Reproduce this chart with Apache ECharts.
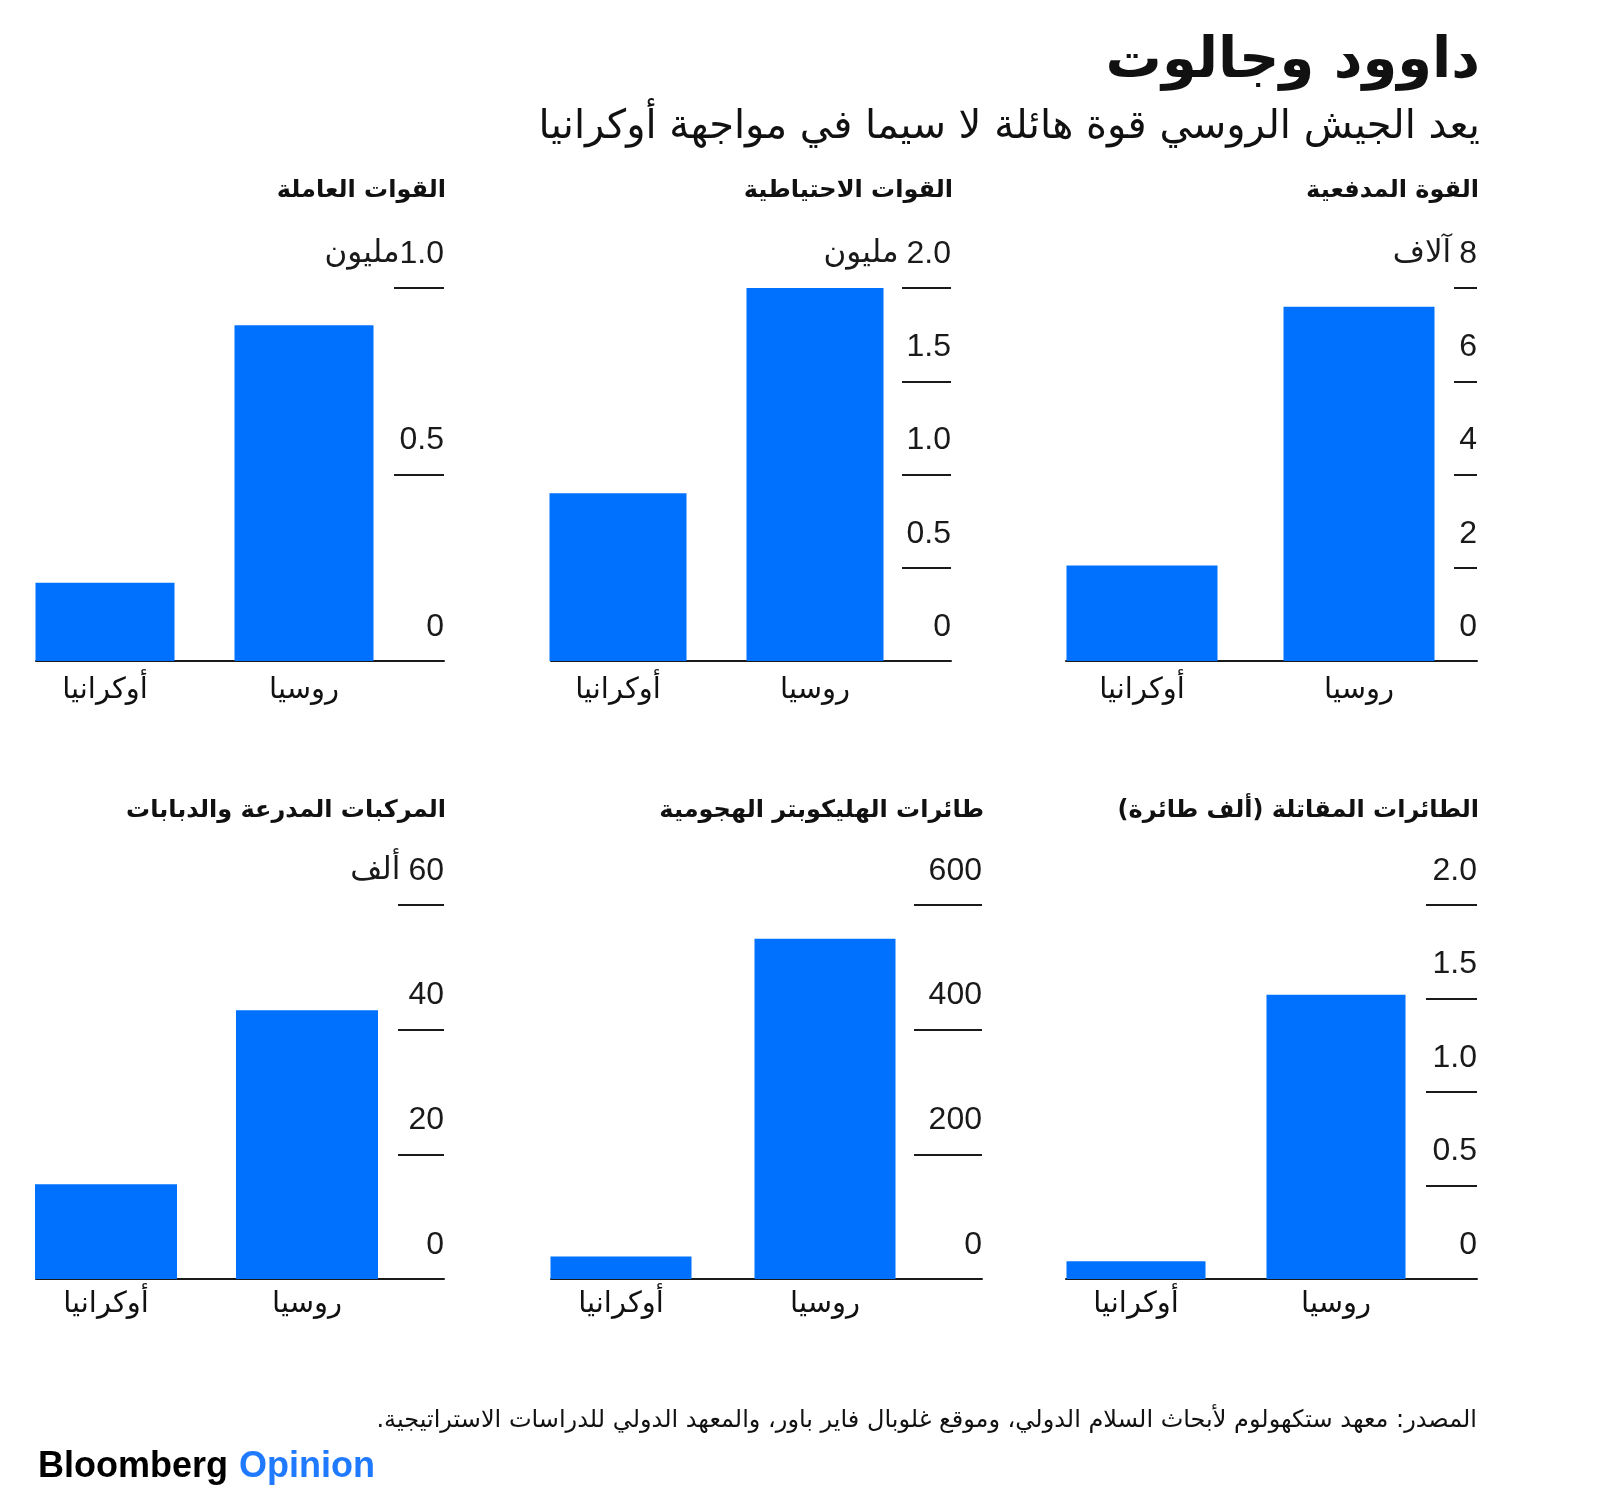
<!DOCTYPE html>
<html>
<head>
<meta charset="utf-8">
<script src="https://cdn.jsdelivr.net/npm/echarts@6/dist/echarts.min.js"></script>
<style>
html,body{margin:0;padding:0;background:#fff;}
#c{width:1600px;height:1496px;}
</style>
</head>
<body>
<div id="c"></div>
<script>
// ---- DATA ----
const categories = ['أوكرانيا', 'روسيا'];
const artilleryValues = [2.05, 7.6];     // thousand pieces
const reservesValues = [0.9, 2.0];       // million
const activeValues = [0.21, 0.9];        // million
const fightersValues = [0.095, 1.52];    // thousand aircraft
const helicoptersValues = [36, 546];
const armorValues = [15.2, 43.1];        // thousand

const ticksArtillery = ['0', '2', '4', '6', '8'];
const ticksReserves = ['0', '0.5', '1.0', '1.5', '2.0'];
const ticksActive = ['0', '0.5', '1.0'];
const ticksFighters = ['0', '0.5', '1.0', '1.5', '2.0'];
const ticksHelicopters = ['0', '200', '400', '600'];
const ticksArmor = ['0', '20', '40', '60'];

const mainTitle = 'داوود وجالوت';
const subTitle = 'يعد الجيش الروسي قوة هائلة لا سيما في مواجهة أوكرانيا';
const sourceText = 'المصدر: معهد ستكهولوم لأبحاث السلام الدولي، وموقع غلوبال فاير باور، والمعهد الدولي للدراسات الاستراتيجية.';

// ---- LAYOUT / STYLE ----
const RLM = '\u200F';
const BLUE = '#0070FF';
const INK = '#1a1a1a';
const NUMFONT = '"Liberation Sans", "DejaVu Sans", sans-serif';
const ARFONT = '"DejaVu Sans", sans-serif';

const panels = [
  {title:'القوة المدفعية', values:artilleryValues, ticks:ticksArtillery, interval:2, unit:'آلاف', unitGap:8,
   axisRight:1477, baseLeft:1066, uc:1142, rc:1359, barW:151, tickLen:23, top:288, bottom:661, titleY:191, catMargin:15},
  {title:'القوات الاحتياطية', values:reservesValues, ticks:ticksReserves, interval:0.5, unit:'مليون', unitGap:8,
   axisRight:951, baseLeft:551, uc:618, rc:815, barW:137, tickLen:49, top:288, bottom:661, titleY:191, catMargin:15},
  {title:'القوات العاملة', values:activeValues, ticks:ticksActive, interval:0.5, unit:'مليون', unitGap:0,
   axisRight:444, baseLeft:36, uc:105, rc:304, barW:139, tickLen:50, top:288, bottom:661, titleY:191, catMargin:15},
  {title:'الطائرات المقاتلة (ألف طائرة)', values:fightersValues, ticks:ticksFighters, interval:0.5, unit:'', unitGap:0,
   axisRight:1477, baseLeft:1066, uc:1136, rc:1336, barW:139, tickLen:51, top:905, bottom:1279, titleY:811, catMargin:11},
  {title:'طائرات الهليكوبتر الهجومية', values:helicoptersValues, ticks:ticksHelicopters, interval:200, unit:'', unitGap:0,
   axisRight:982, baseLeft:551, uc:621, rc:825, barW:141, tickLen:68, top:905, bottom:1279, titleY:811, catMargin:11},
  {title:'المركبات المدرعة والدبابات', values:armorValues, ticks:ticksArmor, interval:20, unit:'ألف', unitGap:8,
   axisRight:444, baseLeft:36, uc:106, rc:307, barW:142, tickLen:46, top:905, bottom:1279, titleY:811, catMargin:11}
];

const W = 1600, H = 1496;
const grid = [], xAxis = [], yAxis = [], series = [], graphic = [];

graphic.push({type:'text', x:1480, y:62, style:{text:RLM+mainTitle+RLM, font:'bold 56px '+ARFONT, fill:'#111', align:'right', verticalAlign:'middle'}});
graphic.push({type:'text', x:1480, y:128, style:{text:RLM+subTitle+RLM, font:'40px '+ARFONT, fill:'#111', align:'right', verticalAlign:'middle'}});
graphic.push({type:'text', x:1477, y:1421, style:{text:RLM+sourceText+RLM, font:'24px '+ARFONT, fill:'#111', align:'right', verticalAlign:'middle'}});
graphic.push({type:'text', x:38, y:1467, style:{text:'{a|Bloomberg}{b|Opinion}', align:'left', verticalAlign:'middle',
  rich:{a:{font:'bold 36px "Liberation Sans", sans-serif', fill:'#000'},
        b:{font:'bold 36px "Liberation Sans", sans-serif', fill:'#1f7aff', padding:[0,0,0,11]}}}});

panels.forEach((p, i) => {
  const max = p.interval * (p.ticks.length - 1);
  const s = p.rc - p.uc;
  // bars grid
  const gb = grid.length;
  grid.push({left:p.uc - s/2, right:W - (p.rc + s/2), top:p.top, bottom:H - p.bottom});
  xAxis.push({gridIndex:gb, type:'category', data:categories, axisLine:{show:false}, axisTick:{show:false},
    axisLabel:{margin:p.catMargin, fontSize:29, color:'#111', fontFamily:ARFONT}});
  yAxis.push({gridIndex:gb, type:'value', min:0, max:max, interval:p.interval, show:false});
  series.push({type:'bar', xAxisIndex:gb, yAxisIndex:gb, data:p.values, barWidth:p.barW,
    itemStyle:{color:BLUE}, silent:true, animation:false});
  // baseline grid
  const ga = grid.length;
  grid.push({left:p.baseLeft, right:W - p.axisRight, top:p.top, bottom:H - p.bottom});
  xAxis.push({gridIndex:ga, type:'value', min:0, max:1, axisLine:{show:true, lineStyle:{color:INK, width:2}},
    axisTick:{show:false}, axisLabel:{show:false}, splitLine:{show:false}});
  yAxis.push({gridIndex:ga, type:'value', min:0, max:max, interval:p.interval, show:false});
  // tick-mark grid (split lines across a narrow strip act as ticks)
  const gt = grid.length;
  grid.push({left:p.axisRight - p.tickLen, right:W - p.axisRight, top:p.top, bottom:H - p.bottom});
  xAxis.push({gridIndex:gt, type:'value', min:0, max:1, show:false});
  const rich = {n:{fontSize:32, fontFamily:NUMFONT, color:INK, padding:[0,0,0,p.unitGap]},
                u:{fontSize:31, fontFamily:ARFONT, color:INK}};
  yAxis.push({gridIndex:gt, type:'value', position:'right', min:0, max:max, interval:p.interval,
    axisLine:{show:false}, axisTick:{show:false},
    splitLine:{show:true, lineStyle:{color:INK, width:2}},
    axisLabel:{inside:true, margin:0, align:'right', verticalAlign:'bottom', lineHeight:34, padding:[0,0,17,0],
      fontSize:32, fontFamily:NUMFONT, color:INK, rich:rich,
      formatter:(v) => {
        const idx = Math.round(v / p.interval);
        const t = p.ticks[idx];
        if (idx === p.ticks.length - 1 && p.unit) return '{u|' + p.unit + '}{n|' + t + '}';
        return '{n|' + t + '}';
      }}});
  graphic.push({type:'text', x:p.axisRight + 2, y:p.titleY, style:{text:RLM+p.title+RLM, font:'bold 24px '+ARFONT, fill:'#111', align:'right', verticalAlign:'middle'}});
});

const chart = echarts.init(document.getElementById('c'), null, {renderer:'canvas', width:W, height:H});
chart.setOption({backgroundColor:'#fff', animation:false, grid, xAxis, yAxis, series, graphic});
</script>
</body>
</html>
